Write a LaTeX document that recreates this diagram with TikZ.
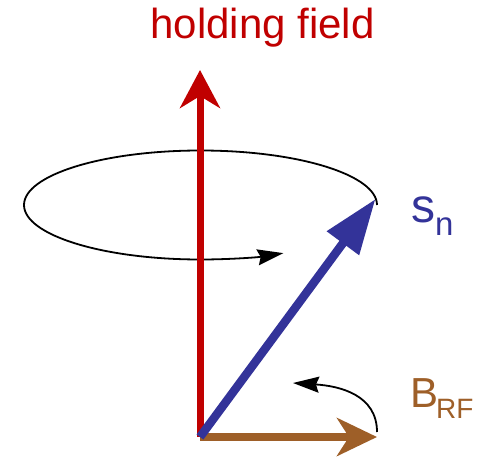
\documentclass[tikz,border=0pt]{standalone}
\usepackage{fontspec}
\setmainfont{Liberation Sans}
\usetikzlibrary{arrows.meta}
\definecolor{hfred}{HTML}{C00000}
\definecolor{snblue}{HTML}{333399}
\definecolor{rfbrown}{HTML}{9E5F28}
\begin{document}
\begin{tikzpicture}[x=1pt,y=-1pt,
  thinarrow/.style={draw=black,line width=1.8pt,-{Stealth[length=26pt,width=16pt,inset=3pt]}},
  redarrow/.style={draw=hfred,line width=7pt,-{Stealth[length=38pt,width=40pt,inset=12pt]}},
  bluearrow/.style={draw=snblue,line width=8.5pt,-{Triangle[length=55pt,width=38pt]}},
  brownarrow/.style={draw=rfbrown,line width=8.5pt,-{Stealth[length=40pt,width=38pt,inset=12pt]}},
  lbl/.style={inner sep=0pt,anchor=base west}]
\useasboundingbox (0,0) rectangle (489,457);
\coordinate (O) at (200,437);
\coordinate (redtip) at (200,70);
\coordinate (bluetip) at (375.5,199);
\coordinate (browntip) at (377,437);
\coordinate (ellstart) at (377,205);
\coordinate (cstart) at (377,432);
\coordinate (ctip) at (293,383);
% precession ellipse
\draw[thinarrow] (ellstart) arc[x radius=176.5, y radius=54.5, start angle=0, end angle=-298];
% rotation arrow
\draw[thinarrow] (cstart) .. controls (377,395) and (340,386) .. (ctip);
% vectors
\draw[redarrow] (O) -- (redtip);
\draw[brownarrow] (O) -- (browntip);
\draw[bluearrow] (O) -- (bluetip);
% labels
\node[inner sep=0pt,anchor=base,text=hfred,font=\fontsize{42}{48}\selectfont] (hf) at (262.5,39) {holding field};
\node[lbl,text=snblue,font=\fontsize{48}{52}\selectfont] (s) at (411.5,222) {s};
\node[lbl,text=snblue,font=\fontsize{33}{36}\selectfont] (n) at (435,235) {n};
\node[lbl,text=rfbrown,font=\fontsize{42}{48}\selectfont] (B) at (410,407) {B};
\node[lbl,text=rfbrown,font=\fontsize{28}{32}\selectfont] (RF) at (436,418) {RF};
\end{tikzpicture}
\end{document}
